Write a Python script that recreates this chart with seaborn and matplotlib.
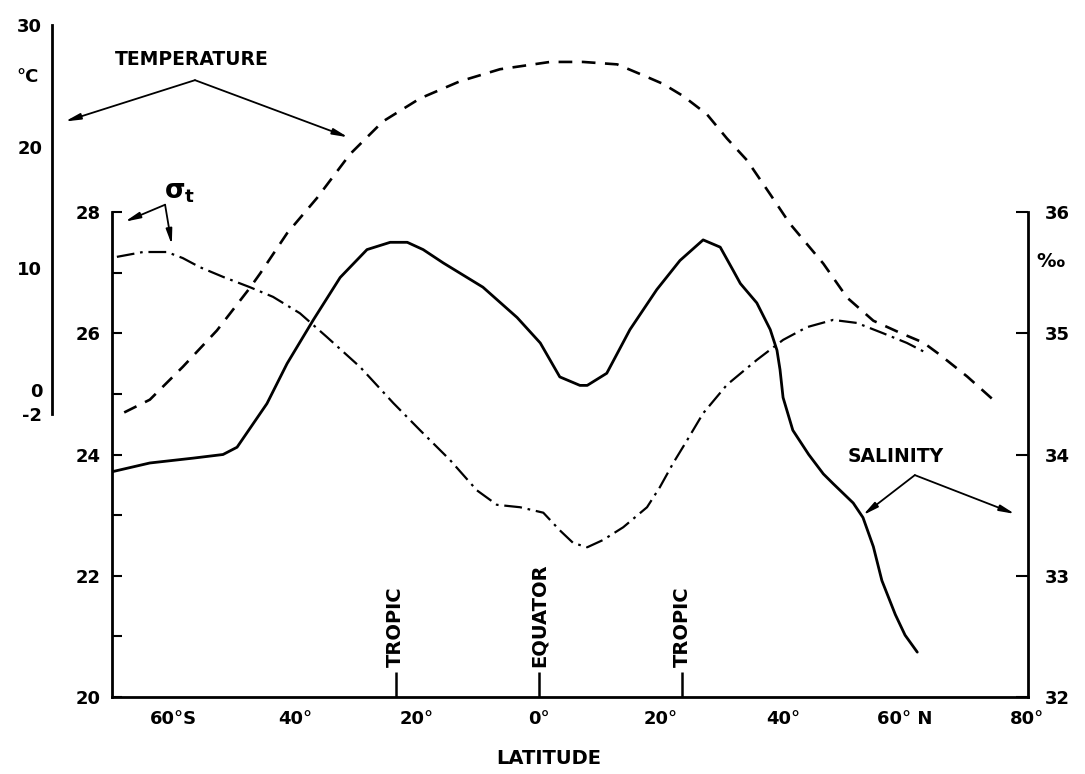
import matplotlib
matplotlib.use("Agg")
import matplotlib.pyplot as plt
import seaborn as sns

# ---------------- data ----------------
lat_temp = [-68.0, -63.8, -58.4, -52.8, -47.4, -45.7, -41.3, -36.4, -31.0, -25.6, -19.5,
            -13.0, -6.4, 1.8, 7.2, 12.8, 16.6, 20.3, 23.6, 27.5, 30.8, 34.1, 37.9,
            41.1, 46.6, 50.5, 54.8, 59.2, 63.0, 65.7, 70.2, 75.1]
temp = [-1.85, -0.8, 1.9, 4.9, 8.4, 9.6, 12.9, 15.8, 19.4, 22.1, 24.0,
        25.4, 26.4, 27.0, 27.0, 26.8, 26.0, 25.2, 24.2, 22.7, 20.7, 18.9, 16.1,
        13.7, 10.4, 7.6, 5.7, 4.7, 3.9, 2.9, 1.1, -1.1]

lat_sal = [-69.8, -63.8, -56.7, -51.8, -49.5, -44.6, -41.3, -37.0, -32.6, -28.2, -24.4,
           -21.6, -19.0, -15.7, -9.2, -3.6, 0.2, 3.4, 6.7, 7.9, 11.1, 14.9, 19.3,
           23.1, 26.9, 29.7, 31.8, 33.0, 35.7, 37.9, 39.0, 39.5, 40.0, 41.6, 44.2,
           46.6, 48.2, 51.5, 53.1, 54.8, 56.2, 58.4, 60.0, 62.0]
sal = [33.86, 33.93, 33.97, 34.0, 34.06, 34.42, 34.75, 35.11, 35.46, 35.69, 35.75,
       35.75, 35.69, 35.58, 35.38, 35.13, 34.92, 34.64, 34.57, 34.57, 34.67, 35.03, 35.36,
       35.6, 35.77, 35.71, 35.52, 35.41, 35.25, 35.03, 34.86, 34.70, 34.47, 34.20, 34.0,
       33.84, 33.76, 33.6, 33.48, 33.24, 32.96, 32.68, 32.51, 32.37]

lat_sig = [-69.2, -64.9, -61.0, -58.4, -55.6, -51.8, -47.4, -43.6, -39.2, -34.8, -29.3,
           -23.9, -19.5, -14.6, -10.2, -6.9, -3.1, 0.7, 3.4, 5.6, 7.9, 10.5, 13.8,
           17.7, 19.8, 22.0, 24.3, 26.9, 30.8, 35.7, 40.0, 43.9, 48.2, 52.1, 56.4,
           60.3, 63.6]
sig = [27.26, 27.34, 27.34, 27.24, 27.09, 26.93, 26.76, 26.60, 26.33, 25.94, 25.44,
       24.85, 24.40, 23.91, 23.41, 23.17, 23.13, 23.04, 22.75, 22.54, 22.47, 22.59, 22.80,
       23.13, 23.46, 23.86, 24.24, 24.68, 25.15, 25.56, 25.89, 26.10, 26.22, 26.17, 26.0,
       25.84, 25.67]

x_major = [-60, -40, -20, 0, 20, 40, 60, 80]
x_labels = ["60°S", "40°", "20°", "0°", "20°", "40°", "60° N", "80°"]
x_minor = [-50, -30, -10, 10, 30, 50, 70]
sig_major = [20, 22, 24, 26, 28]
sig_minor = [21, 23, 25, 27]
sal_major = [32, 33, 34, 35, 36]
temp_major = [-2, 0, 10, 20, 30]
temp_labels = ["-2", "0", "10", "20", "30"]
temp_minor = [5, 15, 25]
mark_lat = [-23.5, 0, 23.5]
mark_text = ["TROPIC", "EQUATOR", "TROPIC"]

# ---------------- style ----------------
sns.set_style("white")
plt.rcParams['font.family'] = ['DejaVu Sans']
plt.rcParams['font.weight'] = 'bold'
plt.rcParams['text.color'] = 'black'
plt.rcParams['axes.labelcolor'] = 'black'

W, H = 1085, 774
fig = plt.figure(figsize=(W / 100, H / 100), dpi=100)
fig.patch.set_facecolor("white")


def box(l, t, r, b):
    return [l / W, 1 - b / H, (r - l) / W, (b - t) / H]


ax = fig.add_axes(box(112, 212, 1028, 697))
ax_sal = ax.twinx()
ax_T = fig.add_axes(box(112, 25, 1028, 697))
for a in (ax_sal, ax_T):
    a.patch.set_visible(False)

XMIN, XMAX = -70, 80.15

# ---------------- curves ----------------
sns.lineplot(x=lat_sal, y=sal, ax=ax_sal, color="black", lw=2.0,
             sort=False, estimator=None)
sns.lineplot(x=lat_sig, y=sig, ax=ax, color="black", lw=1.6,
             sort=False, estimator=None)
ax.lines[-1].set_dashes((8.0, 2.6, 1.2, 2.6))
sns.lineplot(x=lat_temp, y=temp, ax=ax_T, color="black", lw=1.9,
             sort=False, estimator=None)
ax_T.lines[-1].set_dashes((5.2, 3.6))

# ---------------- axes: sigma-t (left inner) + latitude ----------------
ax.set_xlim(XMIN, XMAX)
ax.set_ylim(20, 28)
for s in ("top", "right"):
    ax.spines[s].set_visible(False)
for s in ("left", "bottom"):
    ax.spines[s].set_linewidth(2.0)
    ax.spines[s].set_color("black")
ax.set_xticks(x_major)
ax.set_xticklabels(x_labels)
ax.set_xticks(x_minor, minor=True)
ax.set_yticks(sig_major)
ax.set_yticks(sig_minor, minor=True)
ax.tick_params(axis="both", which="both", direction="in", length=7, width=1.5,
               color="black", labelsize=13, labelcolor="black")
ax.tick_params(axis="x", which="both", pad=9, length=5)
ax.tick_params(axis="y", which="both", pad=8)
ax.set_xlabel("")
ax.set_ylabel("")

# tropic / equator markers
ax.vlines(mark_lat, 20, 20.42, color="black", lw=1.8)
for xl, txt in zip(mark_lat, mark_text):
    ax.text(xl, 20.5, txt, rotation=90, ha="center", va="bottom",
            fontsize=14, fontweight="bold", color="black")

# ---------------- salinity axis (right) ----------------
ax_sal.set_xlim(XMIN, XMAX)
ax_sal.set_ylim(32, 36)
for s in ("top", "left", "bottom"):
    ax_sal.spines[s].set_visible(False)
ax_sal.spines["right"].set_linewidth(2.0)
ax_sal.spines["right"].set_color("black")
ax_sal.set_yticks(sal_major)
ax_sal.tick_params(axis="y", direction="in", length=9, width=1.5, pad=12,
                   labelsize=13, color="black", labelcolor="black")
ax_sal.set_ylabel("")

# ---------------- temperature axis (outer left) ----------------
ax_T.set_xlim(XMIN, XMAX)
ax_T.set_ylim(-25.27, 30.04)
for s in ("top", "right", "bottom"):
    ax_T.spines[s].set_visible(False)
ax_T.spines["left"].set_position(("outward", 43.2))
ax_T.spines["left"].set_bounds(-2, 30)
ax_T.spines["left"].set_linewidth(2.0)
ax_T.spines["left"].set_color("black")
ax_T.set_yticks(temp_major)
ax_T.set_yticklabels(temp_labels)
ax_T.set_yticks(temp_minor, minor=True)
ax_T.tick_params(axis="y", which="both", direction="in", length=7, width=1.5,
                 pad=7, labelsize=13, color="black", labelcolor="black")
ax_T.xaxis.set_visible(False)
ax_T.set_ylabel("")

# ---------------- annotations ----------------
arrow = dict(arrowstyle="-|>,head_length=0.9,head_width=0.18", color="black",
             lw=1.3, shrinkA=0, shrinkB=0)

ax_T.text(-57.0, 27.2, "TEMPERATURE", ha="center", va="center",
          fontsize=13.5, fontweight="bold", color="black", clip_on=False)
ax_T.annotate("", xy=(-77.7, 22.1), xytext=(-56.4, 25.5), arrowprops=arrow,
              annotation_clip=False)
ax_T.annotate("", xy=(-31.3, 20.8), xytext=(-56.4, 25.5), arrowprops=arrow,
              annotation_clip=False)
ax_T.text(-83.8, 25.8, "°C", ha="center", va="center", fontsize=13,
          fontweight="bold", color="black", clip_on=False)

ax.text(-58.9, 28.33, r"$\mathrm{\sigma}_\mathrm{t}$", ha="center", va="center",
        fontsize=19, fontweight="normal", color="black", clip_on=False)
ax.annotate("", xy=(-67.9, 27.84), xytext=(-61.3, 28.12), arrowprops=arrow,
            annotation_clip=False)
ax.annotate("", xy=(-60.2, 27.46), xytext=(-61.3, 28.12), arrowprops=arrow,
            annotation_clip=False)

ax_sal.text(58.4, 33.98, "SALINITY", ha="center", va="center", fontsize=13.5,
            fontweight="bold", color="black", clip_on=False)
ax_sal.annotate("", xy=(53.1, 33.50), xytext=(61.6, 33.83), arrowprops=arrow,
                annotation_clip=False)
ax_sal.annotate("", xy=(78.0, 33.51), xytext=(61.6, 33.83), arrowprops=arrow,
                annotation_clip=False)
ax_sal.text(83.8, 35.59, "‰", ha="center", va="center", fontsize=14,
            fontweight="bold", color="black", clip_on=False)

fig.text(549 / W, 1 - 758 / H, "LATITUDE", ha="center", va="center",
         fontsize=14, fontweight="bold", color="black")

fig.savefig("out.png", dpi=100, facecolor="white")
